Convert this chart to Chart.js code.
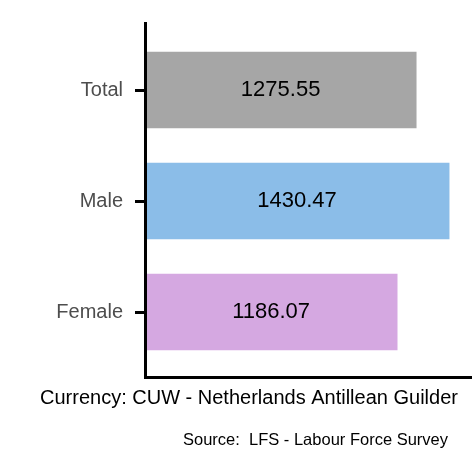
<!DOCTYPE html>
<html><head><meta charset="utf-8">
<script src="https://cdn.jsdelivr.net/npm/chart.js@4"></script>
<style>html,body{margin:0;padding:0;background:#fff}#w{width:472px;height:472px}</style>
</head><body><div id="w"><canvas id="c"></canvas></div>
<script>
const categories = ["Total", "Male", "Female"];
const values = [1275.55, 1430.47, 1186.07];
const colors = ["#a6a6a6", "#8bbde8", "#d5a8e1"];
const axisTitle = "Currency: CUW - Netherlands Antillean Guilder";
const sourceText = "Source:  LFS - Labour Force Survey";
const F = "'Liberation Sans', Arial, sans-serif";

const textPlugin = {
  id: 'txt',
  afterDatasetsDraw(chart) {
    const ctx = chart.ctx;
    const meta = chart.getDatasetMeta(0);
    ctx.save();
    ctx.strokeStyle = '#000'; ctx.lineWidth = 3;
    ctx.beginPath();
    ctx.moveTo(145.5, 22); ctx.lineTo(145.5, 377.5); ctx.lineTo(472, 377.5);
    ctx.stroke();
    ctx.fillStyle = '#000';
    ctx.font = '22px ' + F;
    ctx.textAlign = 'center'; ctx.textBaseline = 'middle';
    const x0 = chart.scales.x.getPixelForValue(0);
    meta.data.forEach((b, i) => {
      ctx.fillText(values[i].toFixed(2), (x0 + b.x) / 2, b.y);
    });
    ctx.font = '20px ' + F;
    ctx.textAlign = 'left';
    ctx.fillText(axisTitle, 40, 398);
    ctx.font = '16.5px ' + F;
    ctx.textAlign = 'right';
    ctx.fillText(sourceText, 448, 440);
    ctx.restore();
  }
};

new Chart(document.getElementById('c'), {
  type: 'bar',
  data: { labels: categories, datasets: [{
    data: values, backgroundColor: colors, borderWidth: 0, barThickness: 76
  }]},
  options: {
    indexAxis: 'y', responsive: true, maintainAspectRatio: false, animation: false,
    layout: { padding: { top: 34.5, left: 0, right: 0, bottom: 0 } },
    plugins: { legend: { display: false }, tooltip: { enabled: false } },
    scales: {
      x: { type: 'linear', min: 0, max: 1538,
        grid: { display: false }, ticks: { display: false },
        border: { display: false },
        afterFit(s) { s.height = 104.5; } },
      y: {
        ticks: { color: '#4d4d4d', font: { size: 20, family: F }, padding: 12 },
        grid: { drawOnChartArea: false, offset: false, tickLength: 10, color: '#000', lineWidth: 3 },
        border: { display: false },
        afterFit(s) { s.width = 145; } }
    }
  },
  plugins: [textPlugin]
});
</script></body></html>
